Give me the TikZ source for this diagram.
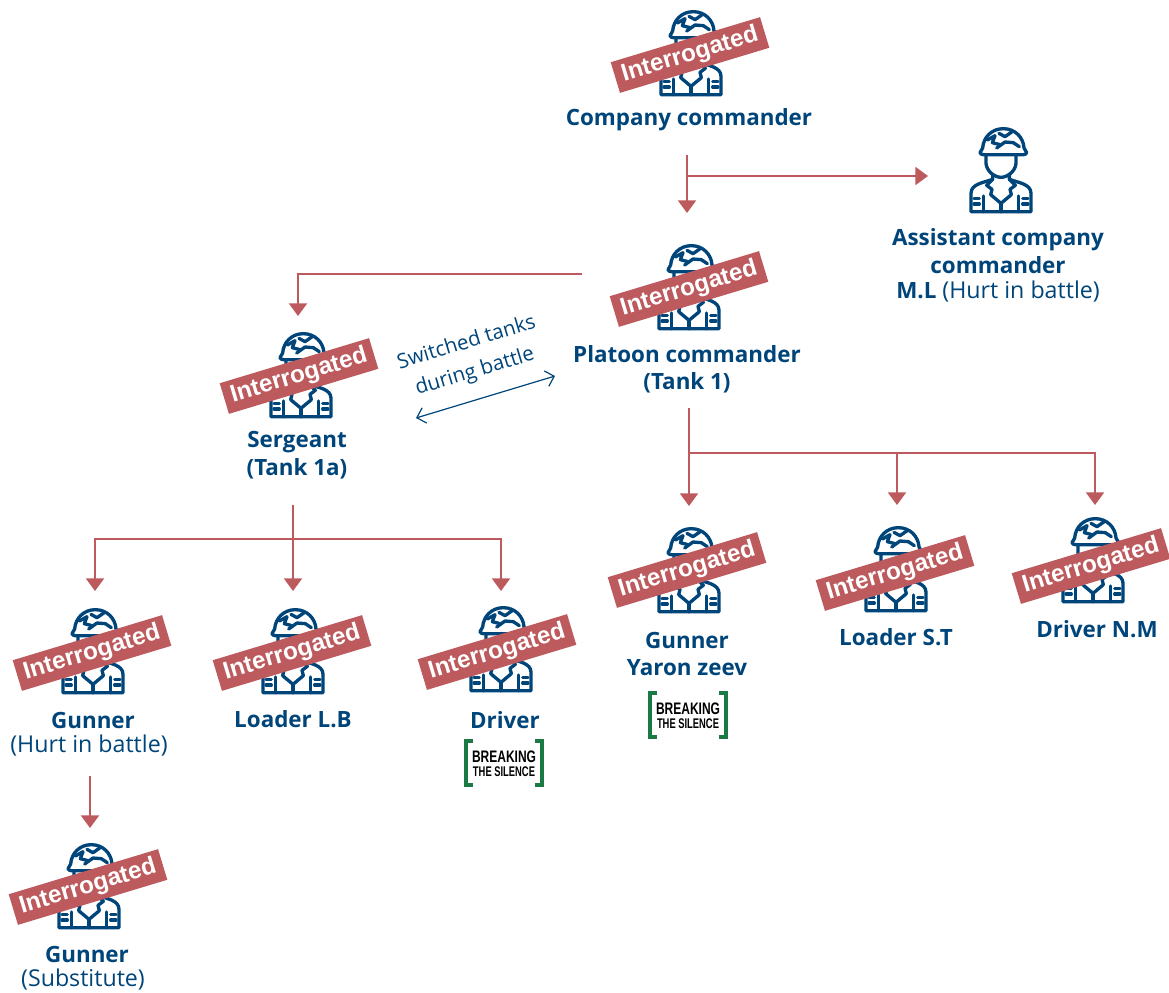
\documentclass[tikz,border=0pt]{standalone}
\usepackage{fontspec}
\usepackage{graphicx}
\setmainfont{Open Sans}
\newfontfamily\bannerfont{Liberation Sans}
\usetikzlibrary{arrows.meta}
\definecolor{navy}{HTML}{00457A}
\definecolor{brick}{HTML}{BC5A5D}
\definecolor{logogreen}{HTML}{1B7A43}
\newcommand{\boldsz}{\fontsize{16.8}{20.6}\selectfont\bfseries}
\tikzset{
  x=0.75pt,y=-0.75pt,
  conn/.style={draw=brick,line width=1.6pt,-{Triangle[width=13.5pt,length=9.5pt]}},
  banner/.style={fill=brick,rotate=16.8,minimum width=117pt,minimum height=24pt,inner sep=0pt,text=white,font=\bannerfont\fontsize{18.2}{20}\selectfont\bfseries},
  lab/.style={text=navy,align=center,inner sep=0pt,font=\boldsz},
  labr/.style={text=navy,align=center,inner sep=0pt,font=\fontsize{17.4}{20.6}\selectfont},
  note/.style={text=navy,inner sep=0pt,rotate=16.8,font=\fontsize{15.4}{15}\selectfont},
  soldier/.pic={
    \begin{scope}[x=0.25pt,y=-0.25pt,shift={(-153,-279)},draw=navy,line width=2.5pt,line join=round,line cap=round]
      \draw (98,84) .. controls (100,52) and (125,26) .. (160,26) .. controls (195,26) and (220,52) .. (222,84) -- (230,98) .. controls (228,102) and (225,104) .. (220,104) -- (100,104) .. controls (95,104) and (92,102) .. (90,98) -- cycle;
      \draw (112,60) -- (135,47) -- (127,68) -- (150,74);
      \draw (140,84) -- (165,66) -- (190,68) -- (208,80);
      \draw (147,40) -- (165,50) -- (188,34);
      \draw (108,104) -- (108,130) .. controls (110,155) and (135,172) .. (153,172) .. controls (171,172) and (196,155) .. (198,130) -- (198,104);
      \draw (128,165) -- (128,178) .. controls (100,188) and (63,192) .. (63,220) -- (63,275) -- (243,275) -- (243,220) .. controls (243,192) and (205,188) .. (178,178) -- (178,165);
      \draw (128,178) -- (110,196) -- (126,208) -- (122,224) -- (153,250) -- (184,224) -- (180,208) -- (196,196) -- (178,178);
      \draw (153,250) -- (153,275);
      \draw (100,228) -- (100,275);
      \draw (205,228) -- (205,275);
      \draw (72,235) -- (88,235) (72,252) -- (88,252);
      \draw (218,235) -- (234,235) (218,252) -- (234,252);
    \end{scope}
  },
  btslogo/.pic={
    \draw[logogreen,line width=2.8pt] (-31,-22) -- (-38,-22) -- (-38,22) -- (-31,22);
    \draw[logogreen,line width=2.8pt] (31,-22) -- (38,-22) -- (38,22) -- (31,22);
    \node[inner sep=0pt,text=black,font=\bannerfont\fontsize{12.5}{13}\selectfont\bfseries] at (0,-6) {\scalebox{0.72}[1]{BREAKING}};
    \node[inner sep=0pt,text=black,font=\bannerfont\fontsize{10.5}{11}\selectfont\bfseries] at (0,9) {\scalebox{0.67}[1]{THE SILENCE}};
  }
}
\begin{document}
\begin{tikzpicture}
\useasboundingbox (0,0) rectangle (1169,992);
% icons
\pic at (691,96) {soldier};
\pic at (1001,213) {soldier};
\pic at (689,330) {soldier};
\pic at (301,418) {soldier};
\pic at (93,694) {soldier};
\pic at (293,694) {soldier};
\pic at (501,692) {soldier};
\pic at (689,613) {soldier};
\pic at (896,612) {soldier};
\pic at (1093,603) {soldier};
\pic at (89,929) {soldier};
% banners
\node[banner] (b1) at (690,55) {Interrogated};
\node[banner] (b2) at (689,289) {Interrogated};
\node[banner] (b3) at (299,376) {Interrogated};
\node[banner] (b4) at (92,653) {Interrogated};
\node[banner] (b5) at (292,653) {Interrogated};
\node[banner] (b6) at (497,652) {Interrogated};
\node[banner] (b7) at (687,570) {Interrogated};
\node[banner] (b8) at (895,573) {Interrogated};
\node[banner] (b9) at (1091,566) {Interrogated};
\node[banner] (b10) at (88,887) {Interrogated};
% labels
\node[lab] (company) at (689,120) {Company commander};
\node[lab] (assist) at (998,251) {Assistant company\\commander};
\node[labr] (ml) at (998,292) {{\boldsz M.L} (Hurt in battle)};
\node[lab] (platoon) at (687,369) {Platoon commander\\(Tank 1)};
\node[lab] (sergeant) at (297,455) {Sergeant\\(Tank 1a)};
\node[lab] (gunnera) at (93,720) {Gunner};
\node[labr] (hurt) at (89,746) {(Hurt in battle)};
\node[lab] (loaderlb) at (293,719) {Loader L.B};
\node[lab] (drivera) at (505,720) {Driver};
\node[lab] (gunnerb) at (687,654) {Gunner\\Yaron zeev};
\node[lab] (loaderst) at (896,637) {Loader S.T};
\node[lab] (drivernm) at (1097,629) {Driver N.M};
\node[lab] (gunnerc) at (87,954) {Gunner};
\node[labr] (subst) at (83,980) {(Substitute)};
\pic at (504,763) {btslogo};
\pic at (688,715) {btslogo};
% switched note
\node[note] (sw1) at (466,341) {Switched tanks};
\node[note] (sw2) at (475,372) {during battle};
\coordinate (swa) at (416,418);
\coordinate (swb) at (555,376);
\draw[navy,line width=0.9pt,{Straight Barb[width=12pt,length=6pt]}-{Straight Barb[width=12pt,length=6pt]}] (swa) -- (swb);
% connectors
\coordinate (c0) at (687,155);
\coordinate (c1) at (687,213);
\coordinate (c2) at (687,176);
\coordinate (c3) at (928,176);
\draw[conn] (c0) -- (c1);
\draw[conn] (c2) -- (c3);
\coordinate (p0) at (582,274);
\coordinate (p1) at (298,274);
\coordinate (p2) at (298,316);
\draw[conn] (p0) -- (p1) -- (p2);
\coordinate (d0) at (689,408);
\coordinate (d1) at (689,506);
\coordinate (d2) at (689,453);
\coordinate (d3) at (1095,453);
\coordinate (d4) at (1095,505);
\coordinate (d5) at (897,453);
\coordinate (d6) at (897,505);
\draw[conn] (d0) -- (d1);
\draw[conn] (d2) -- (d3) -- (d4);
\draw[conn] (d5) -- (d6);
\coordinate (s0) at (293,505);
\coordinate (s1) at (293,591);
\coordinate (s2) at (293,539);
\coordinate (s3) at (95,539);
\coordinate (s4) at (95,591);
\coordinate (s5) at (501,539);
\coordinate (s6) at (501,591);
\draw[conn] (s0) -- (s1);
\draw[conn] (s2) -- (s3) -- (s4);
\draw[conn] (s2) -- (s5) -- (s6);
\coordinate (g0) at (90,776);
\coordinate (g1) at (90,828);
\draw[conn] (g0) -- (g1);
\end{tikzpicture}
\end{document}
